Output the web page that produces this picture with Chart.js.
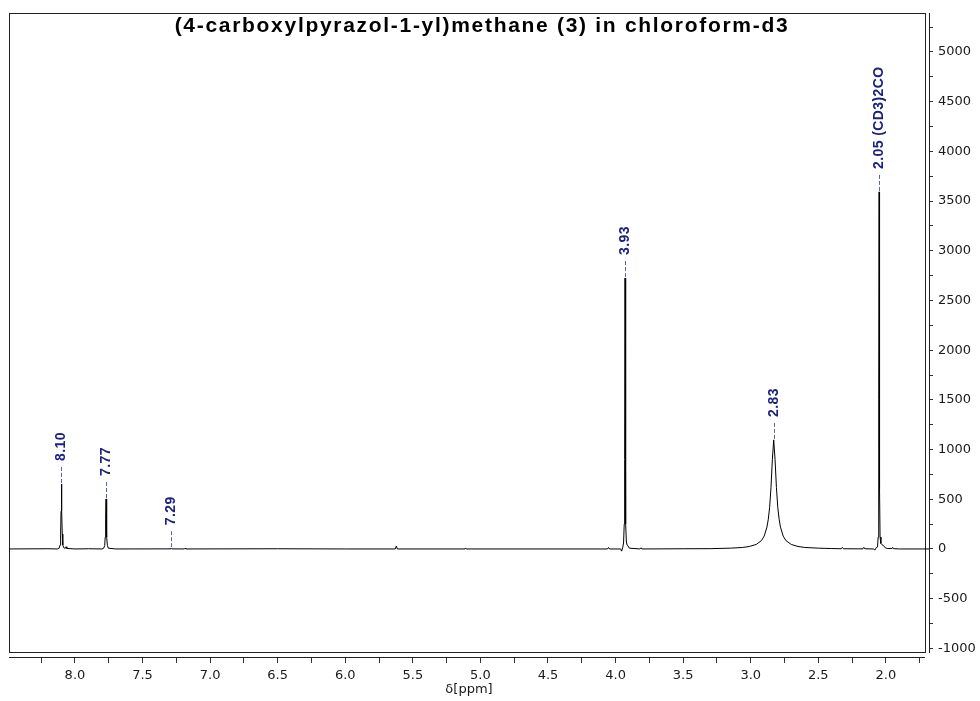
<!DOCTYPE html>
<html>
<head>
<meta charset="utf-8">
<title>(4-carboxylpyrazol-1-yl)methane (3) in chloroform-d3</title>
<script src="https://cdn.jsdelivr.net/npm/chart.js@4/dist/chart.umd.min.js"></script>
<style>
  html, body { margin: 0; padding: 0; background: #ffffff; }
  #c { display: block; }
</style>
</head>
<body>
<canvas id="c" width="980" height="701"></canvas>
<script>
// 1H NMR trace: chemical shift (ppm) and intensity, listed from low field to high field
const tracePpm = [
  8.49, 8.20, 8.13, 8.117, 8.110, 8.106, 8.103, 8.100, 8.097, 8.094, 8.090, 8.083, 8.072, 8.066, 8.060,
  8.00, 7.90, 7.80, 7.787, 7.780, 7.776, 7.773, 7.770, 7.767, 7.764, 7.760, 7.753, 7.70,
  7.295, 7.290, 7.285, 7.19, 7.185, 7.18, 6.50, 6.00, 5.63, 5.622, 5.615, 5.115, 5.110, 5.105, 4.50,
  4.06, 4.052, 4.045, 3.962, 3.955, 3.947, 3.941, 3.936, 3.933, 3.930, 3.927, 3.924, 3.920, 3.915, 3.908, 3.898,
  3.82, 3.812, 3.805, 3.50, 3.30,
  3.15, 3.06, 3.01, 2.96, 2.92, 2.90, 2.88, 2.87, 2.86, 2.85, 2.84, 2.83, 2.82, 2.81, 2.80, 2.79, 2.78, 2.76, 2.74, 2.70, 2.65, 2.60,
  2.50, 2.40, 2.33, 2.322, 2.315, 2.17, 2.163, 2.157,
  2.09, 2.082, 2.072, 2.062, 2.057, 2.054, 2.052, 2.050, 2.048, 2.046, 2.043, 2.037, 2.028, 2.018, 2.005, 1.99,
  1.955, 1.950, 1.945, 1.90, 1.674
];
const traceIntensity = [
  0, 2, 0, 8, 40, 150, 380, 654, 380, 150, 40, 12, 6, 22, 5,
  0, 2, 0, 8, 35, 120, 300, 503, 300, 120, 35, 8, 0,
  1, 8, 1, 0, 8, 0, 2, 0, 0, 30, 0, 0, 10, 0, 0,
  0, 15, 0, 0, -22, 15, 60, 250, 900, 2726, 900, 250, 70, 40, 32, 8,
  0, 12, 0, 2, 3,
  8, 15, 25, 45, 85, 130, 220, 300, 420, 620, 900, 1097, 900, 620, 420, 300, 220, 130, 85, 45, 25, 15,
  8, 4, 2, 16, 2, 1, 16, 2,
  0, -12, 12, 20, 120, 600, 1500, 3592, 1500, 600, 120, 55, 42, 35, 12, 5,
  4, 16, 3, 0, 0
];

// Picked peaks and their annotations
const peakShifts = [8.10, 7.77, 7.29, 3.93, 2.83, 2.05];
const peakNotes  = ['', '', '', '', '', ' (CD3)2CO'];

// Axis tick labels (major ticks); minor ticks fall halfway between them
const xTickLabels = ['8.0', '7.5', '7.0', '6.5', '6.0', '5.5', '5.0', '4.5', '4.0', '3.5', '3.0', '2.5', '2.0'];
const yTickLabels = ['-1000', '-500', '0', '500', '1000', '1500', '2000', '2500', '3000', '3500', '4000', '4500', '5000'];

const chartTitle = '(4-carboxylpyrazol-1-yl)methane (3) in chloroform-d3';
const xAxisTitle = 'δ[ppm]';

const X_LEFT = 8.488, X_RIGHT = 1.681;
const Y_MIN = -1097, Y_MAX = 5392;

const points = tracePpm.map((p, i) => ({ x: p, y: traceIntensity[i] }));

const tickFont = { family: '"DejaVu Sans", Verdana, sans-serif', size: 13 };
const labelColor = '#1a1a1a';

// Major tick values plus the minor ticks halfway between neighbours (and beyond the ends)
function withMinorTicks(labels, min, max) {
  const major = labels.map(Number);
  const step = major[1] - major[0];
  const out = [];
  const first = major[0] - step, last = major[major.length - 1] + step;
  for (let k = 0; k <= Math.round((last - first) / step) * 2; k++) {
    const v = Math.round((first + k * step / 2) * 1000) / 1000;
    if (v >= Math.min(min, max) && v <= Math.max(min, max)) out.push({ value: v });
  }
  return out;
}

function labelFor(labels, v, digits) {
  const s = digits ? v.toFixed(digits) : String(Math.round(v));
  return labels.includes(s) ? s : '';
}

// Frame, offset axis lines, peak annotations and title
const decorations = {
  id: 'decorations',
  beforeDatasetsDraw(chart) {
    const { ctx, chartArea: a } = chart;
    const r = Math.round(a.right);
    ctx.save();
    ctx.strokeStyle = '#222';
    ctx.lineWidth = 1;
    ctx.strokeRect(a.left + 0.5, a.top + 0.5, (r - 4) - a.left, (a.bottom - 6) - a.top);
    ctx.beginPath();
    ctx.moveTo(a.left, a.bottom - 0.5);
    ctx.lineTo(r - 4, a.bottom - 0.5);
    ctx.moveTo(r + 0.5, a.top);
    ctx.lineTo(r + 0.5, a.bottom - 5);
    ctx.stroke();
    ctx.restore();
  },
  afterDatasetsDraw(chart) {
    const { ctx } = chart;
    const xs = chart.scales.x, ys = chart.scales.y;
    ctx.save();
    peakShifts.forEach((shift, i) => {
      const idx = tracePpm.findIndex(p => Math.abs(p - shift) < 1e-9);
      const h = idx >= 0 ? traceIntensity[idx] : 0;
      const px = Math.round(xs.getPixelForValue(shift)) + 0.5;
      const py = ys.getPixelForValue(h);
      ctx.strokeStyle = '#5b62b0';
      ctx.lineWidth = 1;
      ctx.setLineDash([4, 2]);
      ctx.beginPath();
      ctx.moveTo(px, py - 1);
      ctx.lineTo(px, py - 19);
      ctx.stroke();
      ctx.setLineDash([]);
      ctx.save();
      ctx.translate(px, py - 23);
      ctx.rotate(-Math.PI / 2);
      ctx.font = 'bold 14px "Liberation Sans", Arial, sans-serif';
      if ('letterSpacing' in ctx) ctx.letterSpacing = '0.4px';
      ctx.fillStyle = '#1b237e';
      ctx.textAlign = 'left';
      ctx.textBaseline = 'middle';
      ctx.fillText(shift.toFixed(2) + peakNotes[i], 0, 0);
      ctx.restore();
    });
    ctx.font = 'bold 21px "Liberation Sans", Arial, sans-serif';
    if ('letterSpacing' in ctx) ctx.letterSpacing = '1.7px';
    ctx.fillStyle = '#000';
    ctx.textAlign = 'center';
    ctx.textBaseline = 'alphabetic';
    ctx.fillText(chartTitle, 482, 32);
    ctx.restore();
  }
};

new Chart(document.getElementById('c'), {
  type: 'scatter',
  data: {
    datasets: [{
      data: points,
      showLine: true,
      borderColor: '#000000',
      borderWidth: 1,
      pointRadius: 0,
      tension: 0,
      fill: false
    }]
  },
  options: {
    responsive: false,
    animation: false,
    devicePixelRatio: 1,
    layout: { padding: { left: 9, top: 13, right: 0, bottom: 0 } },
    plugins: { legend: { display: false }, tooltip: { enabled: false }, title: { display: false } },
    scales: {
      x: {
        type: 'linear',
        reverse: true,
        min: X_RIGHT,
        max: X_LEFT,
        afterFit(s) { s.height = 43; },
        afterBuildTicks(s) { s.ticks = withMinorTicks(xTickLabels, X_RIGHT, X_LEFT); },
        border: { display: false },
        grid: { drawOnChartArea: false, drawTicks: true, tickLength: 5, color: '#333' },
        ticks: {
          autoSkip: false,
          maxRotation: 0,
          padding: 5,
          color: labelColor,
          font: tickFont,
          callback(v) { return labelFor(xTickLabels, v, 1); }
        },
        title: { display: true, text: xAxisTitle, color: labelColor, font: tickFont, padding: { top: 0, bottom: 4 } }
      },
      y: {
        type: 'linear',
        position: 'right',
        min: Y_MIN,
        max: Y_MAX,
        afterFit(s) { s.width = 51; },
        afterBuildTicks(s) { s.ticks = withMinorTicks(yTickLabels, Y_MIN, Y_MAX); },
        border: { display: false },
        grid: { drawOnChartArea: false, drawTicks: true, tickLength: 4, color: '#333' },
        ticks: {
          autoSkip: false,
          padding: 5,
          color: labelColor,
          font: tickFont,
          callback(v) { return labelFor(yTickLabels, v, 0); }
        }
      }
    }
  },
  plugins: [decorations]
});
</script>
</body>
</html>
